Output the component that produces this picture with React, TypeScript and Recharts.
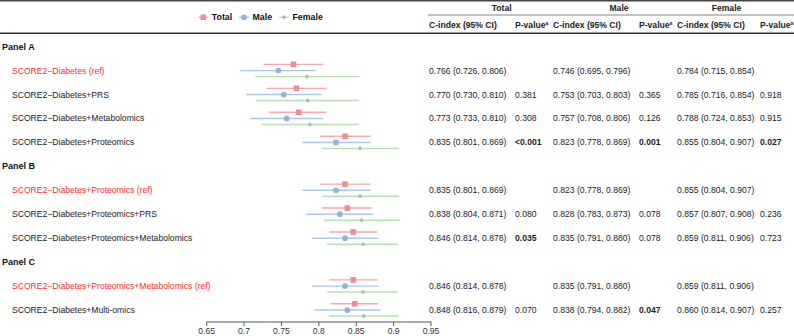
import React from 'react';
import { ScatterChart, Scatter, ErrorBar, XAxis, YAxis } from 'recharts';

const panels = ['Panel A', 'Panel B', 'Panel C'];
const models = [
  'SCORE2\u2212Diabetes (ref)',
  'SCORE2\u2212Diabetes+PRS',
  'SCORE2\u2212Diabetes+Metabolomics',
  'SCORE2\u2212Diabetes+Proteomics',
  'SCORE2\u2212Diabetes+Proteomics (ref)',
  'SCORE2\u2212Diabetes+Proteomics+PRS',
  'SCORE2\u2212Diabetes+Proteomics+Metabolomics',
  'SCORE2\u2212Diabetes+Proteomics+Metabolomics (ref)',
  'SCORE2\u2212Diabetes+Multi-omics',
];
const modelPanel = [0, 0, 0, 0, 1, 1, 1, 2, 2];

const totalEst = [0.766, 0.770, 0.773, 0.835, 0.835, 0.838, 0.846, 0.846, 0.848];
const totalLo = [0.726, 0.730, 0.733, 0.801, 0.801, 0.804, 0.814, 0.814, 0.816];
const totalHi = [0.806, 0.810, 0.810, 0.869, 0.869, 0.871, 0.878, 0.878, 0.879];
const totalP = ['', '0.381', '0.308', '<0.001', '', '0.080', '0.035', '', '0.070'];

const maleEst = [0.746, 0.753, 0.757, 0.823, 0.823, 0.828, 0.835, 0.835, 0.838];
const maleLo = [0.695, 0.703, 0.708, 0.778, 0.778, 0.783, 0.791, 0.791, 0.794];
const maleHi = [0.796, 0.803, 0.806, 0.869, 0.869, 0.873, 0.880, 0.880, 0.882];
const maleP = ['', '0.365', '0.126', '0.001', '', '0.078', '0.078', '', '0.047'];

const femaleEst = [0.784, 0.785, 0.788, 0.855, 0.855, 0.857, 0.859, 0.859, 0.860];
const femaleLo = [0.715, 0.716, 0.724, 0.804, 0.804, 0.807, 0.811, 0.811, 0.814];
const femaleHi = [0.854, 0.854, 0.853, 0.907, 0.907, 0.908, 0.906, 0.906, 0.907];
const femaleP = ['', '0.918', '0.915', '0.027', '', '0.236', '0.723', '', '0.257'];

const xTicks = [0.65, 0.7, 0.75, 0.8, 0.85, 0.9, 0.95];

const FONT = 'Arial, "Liberation Sans", Helvetica, sans-serif';
const FS = 8.6;
const TXT = '#222';

// rows: panel header followed by its models
type Row = { kind: 'panel'; text: string } | { kind: 'model'; i: number };
const rows: Row[] = [];
models.forEach((_, i) => {
  if (i === 0 || modelPanel[i] !== modelPanel[i - 1]) rows.push({ kind: 'panel', text: panels[modelPanel[i]] });
  rows.push({ kind: 'model', i });
});
const slotOf = models.map((_, i) => rows.findIndex((r) => r.kind === 'model' && r.i === i));

const groups = [
  { name: 'Total', est: totalEst, lo: totalLo, hi: totalHi, p: totalP, off: -0.26, line: '#f5a9ad', fill: '#ee8e94', shape: 'square' },
  { name: 'Male', est: maleEst, lo: maleLo, hi: maleHi, p: maleP, off: 0, line: '#adc7e6', fill: '#93b3dc', shape: 'circle' },
  { name: 'Female', est: femaleEst, lo: femaleLo, hi: femaleHi, p: femaleP, off: 0.25, line: '#b9dfb4', fill: '#93cc8f', shape: 'diamond' },
];

const ciX = [429, 553, 677];
const pX = [515, 639, 760];

const fmtCI = (e: number, l: number, h: number) => `${e.toFixed(3)} (${l.toFixed(3)}, ${h.toFixed(3)})`;
const isSig = (s: string) => s.startsWith('<') || (s !== '' && parseFloat(s) < 0.05);

function Marker({ shape, cx, cy, fill }: { shape: string; cx: number; cy: number; fill: string }) {
  if (shape === 'square') return <rect x={cx - 2.8} y={cy - 2.8} width={5.6} height={5.6} fill={fill} />;
  if (shape === 'circle') return <circle cx={cx} cy={cy} r={2.9} fill={fill} />;
  return <path d={`M${cx},${cy - 2.3}L${cx + 2.3},${cy}L${cx},${cy + 2.3}L${cx - 2.3},${cy}Z`} fill={fill} />;
}

function RowTick(props: any) {
  const { y, payload } = props;
  const row = rows[payload.value];
  if (!row) return null;
  if (row.kind === 'panel') {
    return (
      <text x={2} y={y} dominantBaseline="central" fontFamily={FONT} fontSize={9} fontWeight="bold" fill="#111">
        {row.text}
      </text>
    );
  }
  const i = row.i;
  const isRef = models[i].includes('(ref)');
  return (
    <g fontFamily={FONT} fontSize={FS}>
      <text x={12} y={y} dominantBaseline="central" fill={isRef ? '#f2302f' : TXT}>
        {models[i]}
      </text>
      {groups.map((g, k) => (
        <g key={g.name}>
          <text x={ciX[k]} y={y} dominantBaseline="central" fill={TXT}>
            {fmtCI(g.est[i], g.lo[i], g.hi[i])}
          </text>
          <text x={pX[k]} y={y} dominantBaseline="central" fill={TXT} fontWeight={isSig(g.p[i]) ? 'bold' : 'normal'}>
            {g.p[i]}
          </text>
        </g>
      ))}
    </g>
  );
}

function Header() {
  const legendX = [203.3, 244, 284];
  return (
    <svg width={794} height={36} style={{ position: 'absolute', left: 0, top: 0 }} fontFamily={FONT} fontSize={FS}>
      <line x1={0} x2={794} y1={0.8} y2={0.8} stroke="#444" strokeWidth={1.6} />
      {groups.map((g, k) => (
        <text key={g.name} x={[501.7, 619, 726.5][k]} y={7.5} textAnchor="middle" dominantBaseline="central" fontWeight="bold" fill={TXT}>
          {g.name}
        </text>
      ))}
      <line x1={428} x2={794} y1={15} y2={15} stroke="#666" strokeWidth={0.8} />
      {groups.map((g, k) => (
        <g key={g.name} fontWeight="bold" fill={TXT}>
          <text x={ciX[k]} y={25} dominantBaseline="central">C-index (95% CI)</text>
          <text x={pX[k]} y={25} dominantBaseline="central">
            P-value<tspan fontSize={5} dy={-2.5}>a</tspan>
          </text>
        </g>
      ))}
      <line x1={0} x2={794} y1={33.3} y2={33.3} stroke="#333" strokeWidth={1.6} />
      {groups.map((g, k) => (
        <g key={g.name}>
          <line x1={legendX[k] - 5} x2={legendX[k] + 5} y1={17.3} y2={17.3} stroke={g.line} strokeWidth={1.3} />
          <Marker shape={g.shape} cx={legendX[k]} cy={17.3} fill={g.fill} />
          <text x={legendX[k] + 8.5} y={17.3} dominantBaseline="central" fontWeight="bold" fontSize={8.8} fill="#111">
            {g.name}
          </text>
        </g>
      ))}
    </svg>
  );
}

export default function App() {
  const data = groups.map((g) =>
    models.map((_, i) => ({
      x: g.est[i],
      y: slotOf[i] + g.off,
      err: [g.est[i] - g.lo[i], g.hi[i] - g.est[i]],
    }))
  );

  return (
    <div style={{ position: 'absolute', left: 0, top: 0, width: 794, height: 336, background: '#fff' }}>
      <ScatterChart width={794} height={336} margin={{ top: 34.7, right: 363, bottom: 0, left: 0 }}>
        <XAxis
          type="number"
          dataKey="x"
          domain={[0.65, 0.95]}
          ticks={xTicks}
          interval={0}
          height={14}
          tickSize={4}
          tickMargin={2}
          stroke="#555"
          tick={{ fontSize: FS, fill: '#333', fontFamily: FONT }}
          allowDataOverflow
        />
        <YAxis
          type="number"
          dataKey="y"
          domain={[-0.5, rows.length - 0.5]}
          reversed
          ticks={rows.map((_, s) => s)}
          interval={0}
          width={206.7}
          axisLine={false}
          tickLine={false}
          tick={<RowTick />}
          allowDataOverflow
        />
        {groups.map((g, k) => (
          <Scatter
            key={g.name}
            name={g.name}
            data={data[k]}
            isAnimationActive={false}
            shape={(p: any) => <Marker shape={g.shape} cx={p.cx} cy={p.cy} fill={g.fill} />}
          >
            <ErrorBar dataKey="err" direction="x" width={0} stroke={g.line} strokeWidth={1.4} isAnimationActive={false} />
          </Scatter>
        ))}
      </ScatterChart>
      <Header />
    </div>
  );
}
